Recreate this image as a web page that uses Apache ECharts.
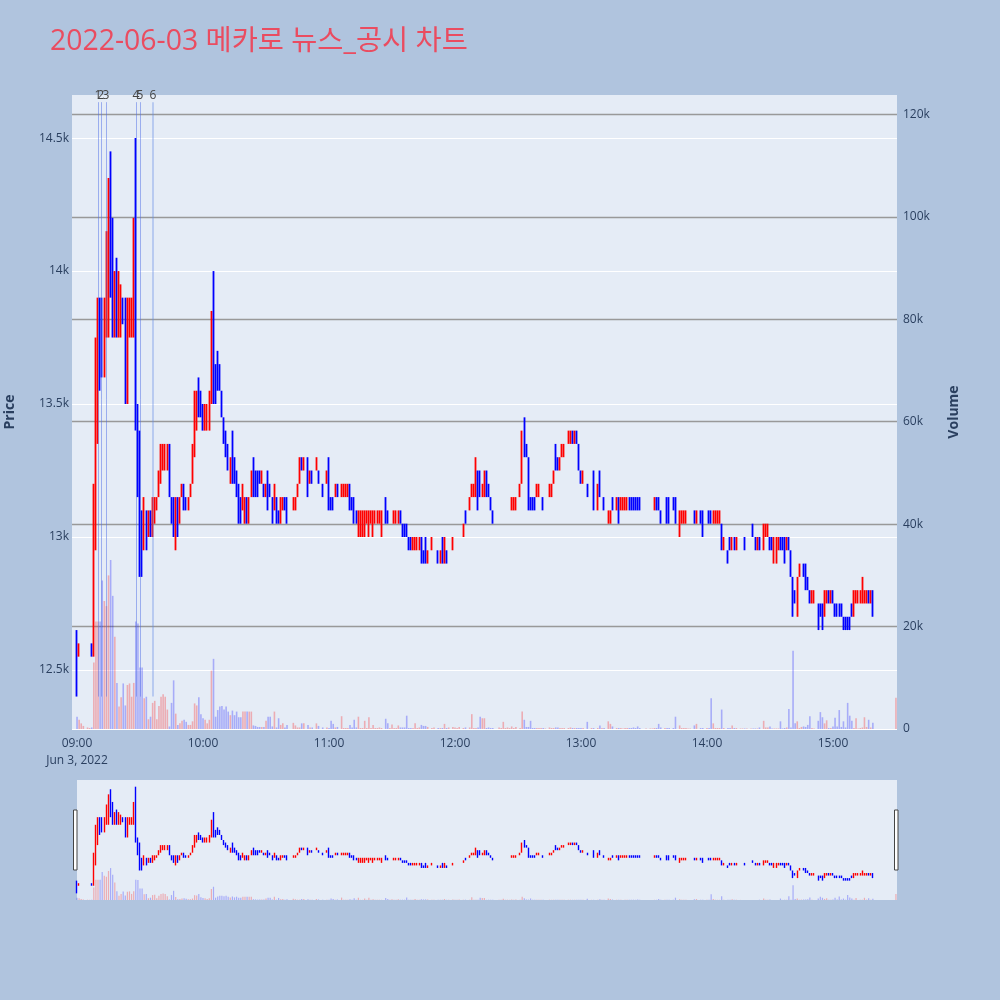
<!DOCTYPE html>
<html><head><meta charset="utf-8">
<script src="https://cdn.jsdelivr.net/npm/echarts@6/dist/echarts.min.js"></script>
<style>html,body{margin:0;padding:0;background:#b0c4de;}#c{width:1000px;height:1000px;}</style>
</head><body><div id="c"></div>
<script>
// minutes after 09:00 for each 1-minute candle
const minutes = [
0,1,2,3,5,6,7,8,9,
10,11,12,13,14,15,16,17,18,19,
20,21,22,23,24,25,26,27,28,29,
30,31,32,33,34,35,36,37,38,39,
40,41,42,43,44,45,46,47,48,49,
50,51,52,53,54,55,56,57,58,59,
60,61,62,63,64,65,66,67,68,69,
70,71,72,73,74,75,76,77,78,79,
80,81,82,83,84,85,86,87,88,89,
90,91,92,93,94,95,96,97,98,99,100,
103,104,105,106,107,108,110,111,112,114,115,117,119,
120,121,122,123,124,126,127,128,129,
130,131,132,133,134,135,136,137,138,139,
140,141,142,143,144,145,147,148,149,
150,151,152,153,154,155,156,157,158,159,
160,161,162,163,164,165,166,167,169,
170,172,173,174,175,176,177,179,
180,181,182,184,185,187,188,189,
190,191,192,193,194,195,196,197,198,
201,202,203,204,205,206,207,208,209,
211,212,213,214,215,216,217,218,219,
220,221,222,223,225,226,227,228,229,
230,231,232,234,235,236,237,238,239,
240,241,243,245,246,248,249,
250,251,253,254,255,257,258,259,
260,261,262,263,264,265,266,267,268,
271,273,274,275,276,277,278,
280,281,282,284,285,287,288,289,
290,291,292,294,295,297,298,
300,301,302,303,304,305,306,307,308,
310,311,312,313,314,316,317,318,319,
321,322,323,324,325,327,328,329,
330,331,332,333,334,335,336,337,338,339,
340,341,342,343,344,345,346,347,348,349,
350,351,353,354,355,356,357,358,359,
360,361,362,363,364,365,366,367,368,369,
370,371,372,373,374,375,376,377,378,379,390
];
const opens = [
12650,12550,12600,12600,12600,12600,12600,12550,12950,
13350,13900,13850,13650,13750,13900,14350,14200,13750,14050,
13750,13750,13900,13900,13550,13750,13750,13750,14200,13500,
13400,13100,12950,13100,13000,13100,13000,13050,13100,13150,
13200,13250,13250,13250,13350,13150,13150,13000,13150,13050,
13150,13200,13150,13100,13150,13200,13300,13400,13550,13550,
13500,13400,13400,13400,13550,13850,13650,13700,13650,13550,
13450,13400,13350,13200,13300,13300,13250,13200,13150,13100,
13050,13150,13050,13150,13300,13250,13250,13250,13200,13200,
13150,13200,13200,13150,13100,13150,13100,13050,13100,13150,13150,
13100,13100,13150,13250,13300,13250,13300,13200,13250,13250,13250,13200,13200,
13300,13150,13150,13150,13200,13150,13150,13150,13150,
13200,13150,13150,13100,13050,13050,13050,13050,13050,13050,
13050,13050,13050,13050,13050,13050,13100,13100,13100,
13100,13050,13050,13050,13100,13050,13050,13050,13000,13000,
12950,12950,12950,12950,13000,12950,13000,12900,12950,
12950,12950,12900,13000,12900,12950,12950,12950,
13000,13000,13000,13000,13100,13100,13150,13150,
13150,13250,13250,13150,13150,13250,13200,13150,13100,
13100,13100,13100,13100,13100,13100,13100,13100,13100,
13150,13200,13400,13350,13300,13150,13150,13150,13150,
13150,13150,13150,13150,13150,13150,13200,13300,13300,
13250,13350,13300,13350,13350,13400,13350,13400,13350,
13250,13200,13200,13250,13250,13100,13250,
13150,13150,13050,13050,13150,13100,13150,13100,
13100,13100,13100,13150,13150,13150,13150,13150,13150,
13150,13150,13150,13100,13150,13150,13100,
13150,13150,13150,13150,13150,13050,13050,13050,
13050,13100,13100,13100,13050,13100,13100,
13100,13100,13100,13050,13050,13050,13050,13050,12950,
12950,13000,12950,13000,12950,13050,13000,13000,13000,
13050,13050,13000,12950,13000,12950,13000,13000,
13000,13000,12950,12950,12950,13000,13000,13000,12950,13000,
12950,12850,12800,12700,12850,12850,12900,12900,12850,12800,
12750,12750,12750,12750,12750,12700,12750,12800,12750,
12800,12750,12750,12750,12750,12700,12700,12700,12700,12750,
12700,12750,12750,12750,12750,12750,12750,12800,12750,12800,12800
];
const highs = [
12650,12600,12600,12600,12600,12600,12600,13200,13750,
13900,13900,13900,13900,14150,14350,14450,14200,14000,14050,
14000,13950,13900,13900,13900,13900,13900,14200,14500,13500,
13400,13100,13150,13100,13100,13100,13150,13150,13150,13250,
13350,13350,13350,13350,13350,13150,13150,13150,13150,13150,
13200,13200,13150,13150,13200,13350,13550,13550,13600,13550,
13500,13500,13500,13550,13850,14000,13650,13700,13650,13550,
13450,13400,13350,13300,13400,13300,13250,13200,13150,13200,
13150,13150,13150,13250,13300,13250,13250,13250,13250,13200,
13200,13250,13200,13150,13200,13150,13100,13150,13150,13150,13150,
13150,13150,13200,13300,13300,13300,13300,13250,13250,13300,13250,13200,13250,
13300,13150,13150,13200,13200,13200,13200,13200,13200,
13200,13150,13150,13100,13100,13100,13100,13100,13100,13100,
13100,13100,13100,13100,13100,13100,13150,13100,13100,
13100,13100,13100,13100,13100,13050,13050,13050,13000,13000,
13000,13000,13000,13000,13000,12950,13000,12950,13000,
12950,12950,12950,13000,13000,12950,12950,13000,
13000,13000,13000,13050,13100,13150,13200,13200,
13300,13250,13250,13200,13250,13250,13200,13150,13100,
13100,13100,13100,13100,13100,13100,13150,13150,13150,
13200,13400,13450,13350,13300,13150,13150,13150,13200,
13200,13150,13150,13150,13200,13200,13250,13350,13300,
13300,13350,13350,13400,13400,13400,13400,13400,13350,
13250,13250,13200,13250,13250,13200,13250,
13150,13150,13100,13100,13150,13150,13150,13150,
13150,13150,13150,13150,13150,13150,13150,13150,13150,
13150,13150,13150,13150,13150,13150,13100,
13150,13150,13150,13150,13150,13100,13100,13100,
13100,13100,13100,13100,13100,13100,13100,
13100,13100,13100,13100,13100,13100,13100,13050,13000,
12950,13000,13000,13000,13000,13050,13000,13000,13000,
13050,13050,13000,13000,13000,13050,13050,13050,
13000,13000,13000,13000,13000,13000,13000,13000,13000,13000,
12950,12850,12800,12850,12900,12850,12900,12900,12850,12800,
12800,12800,12750,12750,12750,12800,12800,12800,12800,
12800,12750,12750,12750,12750,12700,12700,12700,12700,12750,
12800,12800,12800,12800,12850,12800,12800,12800,12800,12800,12800
];
const lows = [
12400,12550,12600,12600,12600,12600,12550,12550,12950,
13350,13550,13600,13600,13750,13750,13900,13750,13750,13750,
13750,13750,13800,13500,13500,13750,13750,13750,13400,13150,
12850,12850,12950,12950,13000,13000,13000,13050,13100,13150,
13200,13250,13250,13250,13150,13050,13000,12950,13000,13050,
13150,13100,13100,13100,13150,13200,13300,13400,13450,13450,
13400,13400,13400,13400,13500,13500,13500,13550,13550,13450,
13350,13300,13250,13200,13200,13200,13150,13050,13050,13100,
13050,13050,13050,13150,13150,13150,13150,13200,13200,13150,
13150,13100,13150,13050,13100,13050,13050,13050,13100,13100,13050,
13100,13100,13150,13200,13250,13250,13150,13200,13200,13250,13200,13150,13200,
13100,13100,13100,13150,13150,13150,13150,13150,13150,
13100,13100,13050,13050,13000,13000,13000,13000,13050,13000,
13050,13000,13050,13050,13050,13000,13050,13050,13100,
13100,13050,13050,13050,13050,13000,13000,13000,12950,12950,
12950,12950,12950,12950,12900,12900,12900,12900,12950,
12950,12900,12900,12900,12900,12900,12950,12950,
13000,13000,13000,13000,13050,13100,13150,13150,
13150,13100,13150,13150,13150,13150,13150,13100,13050,
13100,13100,13100,13100,13100,13100,13100,13100,13100,
13150,13200,13300,13300,13100,13100,13100,13100,13150,
13150,13150,13100,13150,13150,13150,13200,13250,13250,
13250,13300,13300,13350,13350,13350,13350,13350,13250,
13200,13200,13150,13250,13100,13100,13150,
13150,13100,13050,13050,13100,13100,13050,13100,
13100,13100,13100,13100,13100,13100,13100,13100,13100,
13150,13150,13150,13100,13100,13100,13050,
13150,13050,13050,13100,13050,13000,13050,13050,
13050,13100,13100,13050,13050,13050,13000,
13100,13050,13050,13050,13050,13050,13050,12950,12950,
12900,12950,12950,12950,12950,13050,13000,12950,13000,
13050,13000,12950,12950,12950,12950,13000,13000,
12950,12950,12900,12900,12950,12950,12950,12900,12950,12950,
12850,12700,12750,12700,12850,12850,12850,12800,12800,12750,
12750,12750,12650,12700,12650,12700,12750,12750,12750,
12750,12700,12700,12700,12700,12650,12650,12650,12650,12700,
12700,12750,12750,12750,12750,12750,12750,12750,12750,12700,12800
];
const closes = [
12400,12600,12600,12600,12600,12600,12550,13200,13550,
13900,13550,13600,13900,14150,14350,14000,13800,14000,13750,
14000,13950,13800,13550,13900,13900,13900,14200,13450,13150,
12950,12850,13150,12950,13100,13000,13150,13150,13150,13250,
13350,13350,13350,13350,13150,13100,13000,13150,13050,13150,
13200,13100,13100,13150,13200,13350,13500,13550,13450,13450,
13400,13500,13500,13550,13850,13550,13500,13550,13550,13450,
13350,13300,13250,13300,13250,13200,13150,13150,13050,13200,
13150,13050,13150,13250,13150,13200,13150,13200,13250,13150,
13200,13100,13150,13050,13200,13050,13050,13150,13150,13100,13050,
13150,13150,13200,13300,13250,13300,13150,13250,13200,13300,13200,13150,13250,
13150,13100,13100,13200,13150,13200,13200,13200,13200,
13100,13100,13050,13050,13100,13100,13100,13100,13100,13100,
13100,13100,13100,13100,13100,13100,13050,13050,13100,
13100,13100,13100,13100,13050,13000,13000,13000,12950,12950,
13000,13000,13000,13000,12900,12900,12900,12950,13000,
12950,12900,12950,12900,13000,12900,12950,13000,
13000,13000,13000,13050,13050,13150,13200,13200,
13250,13200,13150,13200,13250,13150,13150,13100,13050,
13100,13100,13100,13100,13100,13100,13150,13150,13150,
13200,13400,13350,13300,13100,13100,13100,13100,13200,
13200,13150,13100,13150,13200,13200,13250,13250,13250,
13300,13350,13350,13400,13400,13350,13400,13350,13250,
13200,13250,13150,13250,13100,13200,13150,
13150,13100,13100,13100,13100,13150,13050,13150,
13150,13150,13150,13100,13100,13100,13100,13100,13100,
13150,13150,13150,13150,13100,13100,13050,
13150,13050,13050,13100,13050,13100,13100,13100,
13100,13100,13100,13050,13100,13050,13000,
13100,13050,13050,13100,13100,13100,13100,12950,13000,
12900,12950,13000,12950,13000,13050,13000,12950,13000,
13050,13000,12950,13000,12950,13050,13050,13050,
12950,12950,13000,13000,13000,12950,12950,12900,13000,12950,
12850,12750,12750,12850,12900,12850,12850,12800,12800,12750,
12800,12800,12700,12700,12650,12800,12800,12750,12800,
12750,12700,12700,12700,12700,12650,12650,12650,12650,12700,
12800,12800,12800,12800,12800,12800,12800,12750,12800,12750,12800
];
// traded volume, thousands of shares
const volumesK = [
2.4,1.8,1.1,0.6,0.3,0.2,0.3,13,21,
21,21,29,25,24,30,33,26,18,9,
4.4,6.2,8.9,4.6,8.6,8.9,6.3,9,21,20.6,
12,12,6,6.3,1.9,2.4,5.1,5.5,1.9,4.5,
6.3,6.8,6.3,3.8,0.5,5.1,9.5,3,0.8,1.1,
1.6,1.8,1.4,0.8,0.8,1.5,5,4.6,6.2,2.9,
2.1,1.8,1.1,1.8,11.4,13.7,2.4,3.7,4.4,4.5,
3.8,4.4,3.4,2.7,3.6,2.7,3.4,2.3,2.3,3.4,
3.4,3.4,3.4,3.4,0.7,0.6,0.4,0.4,0.4,0.4,
1.6,2.4,2.4,0.5,3.4,0.3,2.1,0.8,1.1,0.3,0.8,
1.2,0.7,0.3,0.3,1.1,1.1,0.8,0.3,0.3,1.1,0.6,0.3,0.3,
0.2,1.6,1.0,0.3,0.4,2.5,0.2,0.2,0.2,
0.8,0.3,1.8,0.3,2.4,0.2,0.2,1.6,0.2,2.3,
0.2,0.8,0.2,0.2,0.3,0.2,2.0,1.1,0.2,
0.9,0.2,0.2,0.7,0.3,0.3,0.3,2.6,0.2,0.2,
0.2,1.1,0.2,0.3,0.8,0.6,0.6,0.4,0.2,
0.3,0.2,0.2,0.2,1.0,0.2,0.3,0.4,
0.3,0.2,0.4,0.2,0.3,0.3,2.9,0.2,
0.2,0.3,2.4,2.1,2.1,0.2,0.3,0.2,0.2,
0.3,0.2,1.4,0.2,0.3,0.2,0.5,0.2,0.4,
0.2,3.4,1.8,0.4,0.4,1.6,0.2,0.2,0.2,
0.2,0.2,0.2,0.1,0.3,0.2,0.2,0.3,0.3,
0.2,0.2,0.2,0.2,0.3,0.2,0.2,0.2,0.2,
0.2,0.2,1.4,0.2,0.2,0.2,0.7,
0.2,0.2,1.5,1.0,0.5,0.2,0.2,0.2,
0.1,0.2,0.2,0.2,0.2,0.3,0.2,0.5,0.2,
0.1,0.1,0.1,0.2,0.2,1.0,0.3,
0.2,0.2,0.2,0.2,2.4,0.7,0.2,0.2,
0.2,0.1,0.1,0.7,1.0,0.2,0.2,
0.2,0.2,6.0,1.1,0.2,0.2,0.2,3.8,0.2,
0.2,0.2,0.7,0.2,0.2,0.1,0.1,0.1,0.1,
0.1,0.1,0.1,0.1,0.3,1.6,0.3,0.3,
0.5,0.1,0.1,0.1,0.1,1.5,0.1,0.2,0.3,3.9,
0.3,15.3,1.1,1.5,0.2,0.4,0.5,0.4,0.8,2.5,
0.2,0.1,1.6,3.3,2.3,1.1,1.7,0.2,0.2,
0.5,2.2,0.5,3.7,0.4,1.5,0.3,5.1,2.6,1.6,
0.2,2.1,0.1,0.2,0.3,2.3,0.4,1.8,0.3,1.2,6.1
];
// news / disclosure markers (minutes after 09:00)
const newsMinutes = [9.9, 11.3, 13.7, 28.0, 30.0, 36.1];
const newsLabels = ['1', '2', '3', '4', '5', '6'];
const timeTickMinutes = [0, 60, 120, 180, 240, 300, 360];
const timeTickLabels = ['09:00', '10:00', '11:00', '12:00', '13:00', '14:00', '15:00'];
const dateLabel = 'Jun 3, 2022';
const titleText = '2022-06-03 메카로 뉴스_공시 차트';

const n = minutes.length;
[opens, highs, lows, closes, volumesK].forEach((a, k) => {
  if (a.length !== n) throw new Error('length mismatch in array ' + k + ': ' + a.length + ' vs ' + n);
});

const UP = '#ff0000', DOWN = '#0000ff';
const candleData = minutes.map((m, i) => [m, opens[i], closes[i], lows[i], highs[i]]);
const volData = minutes.map((m, i) => ({
  value: [m, volumesK[i]],
  itemStyle: { color: closes[i] >= opens[i] ? 'rgba(255,0,0,0.27)' : 'rgba(0,0,255,0.27)' }
}));
const FONT = '"Open Sans", "Noto Sans CJK KR", sans-serif';
const TXT = '#2a3f5f';
const X_MIN = -2.4, X_MAX = 390.5;

const chart = echarts.init(document.getElementById('c'), null, { width: 1000, height: 1000 });
const candleStyle = (bw) => ({
  color: UP, color0: DOWN, borderColor: UP, borderColor0: DOWN, borderColorDoji: UP, borderWidth: bw
});
chart.setOption({
  animation: false,
  backgroundColor: '#b0c4de',
  textStyle: { fontFamily: FONT },
  title: {
    text: titleText, left: 50, top: 28, padding: 0,
    textStyle: { color: '#ea4c60', fontSize: 28.4, fontWeight: 'normal', fontFamily: FONT }
  },
  grid: [
    { left: 72, right: 103, top: 95, bottom: 271, show: true, backgroundColor: '#e5ecf6', borderWidth: 0, containLabel: false, outerBoundsMode: 'none' },
    { left: 77, right: 103, top: 780, height: 120, show: true, backgroundColor: '#e5ecf6', borderWidth: 0, containLabel: false, outerBoundsMode: 'none' }
  ],
  xAxis: [
    {
      type: 'value', gridIndex: 0, min: X_MIN, max: X_MAX,
      axisLine: { show: false }, axisTick: { show: false }, splitLine: { show: false },
      axisLabel: {
        customValues: timeTickMinutes, color: TXT, fontSize: 12, margin: 6, lineHeight: 17, fontFamily: FONT,
        formatter: (v) => {
          const i = timeTickMinutes.indexOf(Math.round(v));
          const t = i >= 0 ? timeTickLabels[i] : '';
          return i === 0 ? t + '\n' + dateLabel : t;
        }
      }
    },
    { type: 'value', gridIndex: 1, min: 0, max: X_MAX, show: false }
  ],
  yAxis: [
    {
      type: 'value', gridIndex: 0, min: 12278, max: 14662, position: 'left',
      name: 'Price', nameLocation: 'middle', nameGap: 55,
      nameTextStyle: { fontWeight: 'bold', fontSize: 14, color: TXT, fontFamily: FONT },
      axisLine: { show: false }, axisTick: { show: false },
      splitLine: { showMaxLine: false, lineStyle: { color: '#ffffff', width: 1.2 } },
      axisLabel: { formatter: (v) => (v / 1000) + 'k', showMinLabel: false, showMaxLabel: false, color: TXT, fontSize: 12, margin: 3, fontFamily: FONT }
    },
    {
      type: 'value', gridIndex: 0, min: 0, max: 123.8, position: 'right',
      name: 'Volume', nameLocation: 'middle', nameGap: 50,
      nameTextStyle: { fontWeight: 'bold', fontSize: 14, color: TXT, fontFamily: FONT },
      axisLine: { show: false }, axisTick: { show: false },
      splitLine: { showMinLine: false, showMaxLine: false, lineStyle: { color: '#999999', width: 1.3 } },
      axisLabel: { formatter: (v) => (v === 0 ? '0' : v + 'k'), showMaxLabel: false, color: TXT, fontSize: 12, margin: 6, fontFamily: FONT }
    },
    { type: 'value', gridIndex: 1, min: 12269, max: 14632, show: false },
    { type: 'value', gridIndex: 1, min: 0, max: 124, show: false }
  ],
  series: [
    {
      type: 'bar', name: 'Volume', xAxisIndex: 0, yAxisIndex: 1, data: volData, barWidth: 1.6, z: 1
    },
    {
      type: 'candlestick', name: 'Price', xAxisIndex: 0, yAxisIndex: 0, data: candleData,
      encode: { x: 0, y: [1, 2, 3, 4] }, barWidth: 1.2, itemStyle: candleStyle(1.8), z: 2,
      markLine: {
        silent: true, symbol: ['none', 'none'], animation: false,
        label: { show: true, position: 'end', formatter: '{b}', color: '#444', fontSize: 12, distance: 1, fontFamily: FONT },
        data: newsMinutes.map((m, i) => [
          { coord: [m, 12400], name: newsLabels[i],
            lineStyle: { type: 'solid', color: i === 5 ? 'rgba(100,140,230,0.35)' : 'rgba(80,110,230,0.5)', width: i === 5 ? 2 : 1 } },
          { coord: [m, 14635] }
        ])
      }
    },
    {
      type: 'bar', xAxisIndex: 1, yAxisIndex: 3, data: volData, barWidth: 1.2, z: 1
    },
    {
      type: 'candlestick', xAxisIndex: 1, yAxisIndex: 2, data: candleData,
      encode: { x: 0, y: [1, 2, 3, 4] }, barWidth: 1, itemStyle: candleStyle(1.4), z: 2
    }
  ],
  graphic: [
    { type: 'rect', shape: { x: 73.5, y: 810, width: 3.5, height: 60 }, style: { fill: '#ffffff', stroke: '#444', lineWidth: 1 } },
    { type: 'rect', shape: { x: 894.5, y: 810, width: 3.5, height: 60 }, style: { fill: '#ffffff', stroke: '#444', lineWidth: 1 } }
  ]
});
</script></body></html>
